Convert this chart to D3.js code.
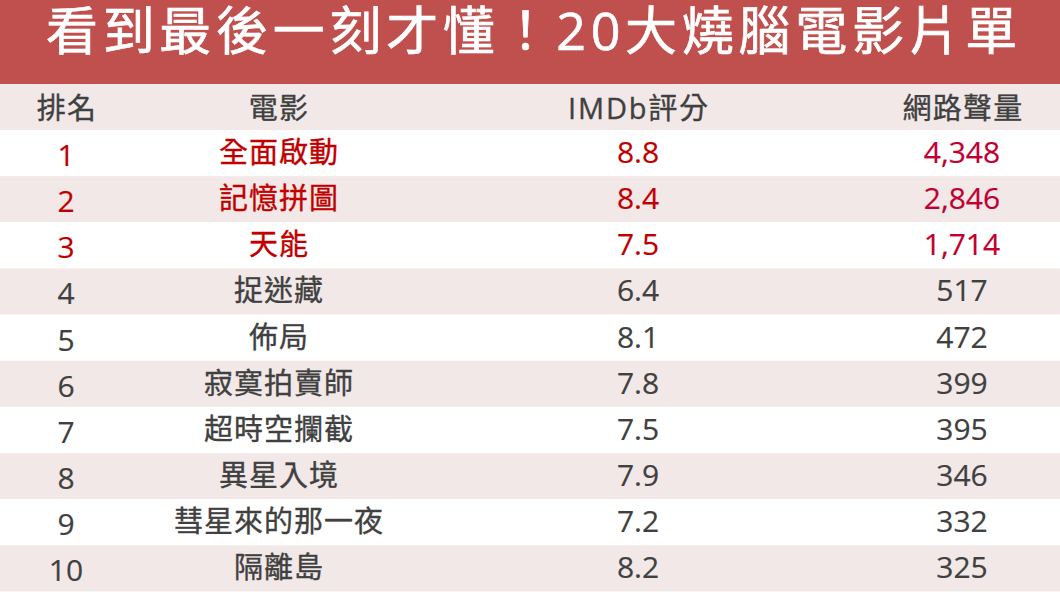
<!DOCTYPE html>
<html lang="zh-Hant">
<head>
<meta charset="UTF-8">
<title>20大燒腦電影片單</title>
<script src="https://d3js.org/d3.v7.min.js"></script>
<style>
  html, body { margin: 0; padding: 0; background: #fff; }
  svg { display: block; }
  text { font-family: "Open Sans", "Noto Sans CJK TC", sans-serif; text-anchor: middle; }
</style>
</head>
<body>
<div id="chart"></div>
<script>
const title = "看到最後一刻才懂！20大燒腦電影片單";
const headers = ["排名", "電影", "IMDb評分", "網路聲量"];
const ranks = [1, 2, 3, 4, 5, 6, 7, 8, 9, 10];
const movies = ["全面啟動", "記憶拼圖", "天能", "捉迷藏", "佈局", "寂寞拍賣師", "超時空攔截", "異星入境", "彗星來的那一夜", "隔離島"];
const imdb = ["8.8", "8.4", "7.5", "6.4", "8.1", "7.8", "7.5", "7.9", "7.2", "8.2"];
const buzz = [4348, 2846, 1714, 517, 472, 399, 395, 346, 332, 325];

const width = 1060, height = 596;
const svg = d3.select("#chart").append("svg").attr("width", width).attr("height", height);

const rowH = 46.15, rowsTop = 130;
const y = d3.scaleBand().domain(ranks).range([rowsTop, rowsTop + rowH * 10]);
const colX = [66, 278, 638, 962];
const fmt = d3.format(",");

// header band
svg.append("rect").attr("width", width).attr("height", 84).attr("fill", "#c0504d");
svg.append("text").attr("x", 534).attr("y", 50)
  .attr("font-size", 52).attr("letter-spacing", 4.7).attr("fill", "#fff")
  .attr("stroke", "#fff").attr("stroke-width", 0.7).text(title);

// column titles
svg.append("rect").attr("y", 84).attr("width", width).attr("height", 46).attr("fill", "#f2e8e8");
svg.selectAll("text.head").data(headers).enter().append("text")
  .attr("class", "head")
  .attr("x", (d, i) => colX[i] + 1)
  .attr("y", 119)
  .attr("font-size", 29)
  .attr("letter-spacing", (d, i) => i === 2 ? 1.8 : 1.2)
  .attr("fill", "#404040").attr("stroke", "#404040").attr("stroke-width", 0.35)
  .text(d => d);

// row stripes
svg.selectAll("rect.row").data(ranks).enter().append("rect")
  .attr("class", "row")
  .attr("y", d => y(d)).attr("width", width).attr("height", y.bandwidth())
  .attr("fill", (d, i) => i % 2 ? "#f2e8e8" : "#fff");

const rowColor = (i, c) => i < 3 ? (c === 3 ? "#c00030" : "#c00000") : "#404040";
const columns = [
  ranks.map(String),
  movies,
  imdb,
  buzz.map(fmt)
];
columns.forEach((col, c) => {
  svg.selectAll("text.col" + c).data(col).enter().append("text")
    .attr("class", "col" + c)
    .attr("x", colX[c] + (c === 1 ? 1 : 0))
    .attr("y", (d, i) => y(ranks[i]) + (c === 0 ? 36 : 33))
    .attr("font-size", c === 1 ? 29 : 30)
    .attr("letter-spacing", c === 1 ? 1 : 0)
    .attr("fill", (d, i) => rowColor(i, c))
    .attr("stroke", (d, i) => rowColor(i, c))
    .attr("stroke-width", c === 1 ? 0.35 : 0.2)
    .text(d => d);
});
</script>
</body>
</html>
